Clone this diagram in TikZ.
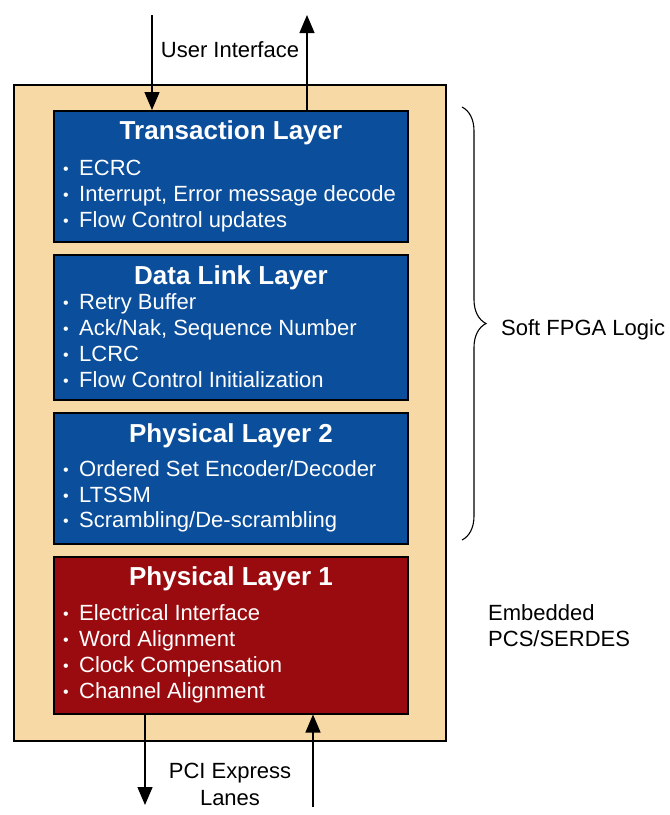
\documentclass[tikz,border=0pt]{standalone}
\usepackage{fontspec}
\setmainfont{Liberation Sans}
\usetikzlibrary{arrows.meta,decorations.pathreplacing}
\definecolor{beige}{HTML}{F6D9A4}
\definecolor{layerblue}{HTML}{0B4E9B}
\definecolor{layerred}{HTML}{9A0B0F}
\newcommand{\bul}{\makebox[16pt][l]{\raisebox{1pt}{\fontsize{16}{16}\selectfont •}}}
\begin{document}
\begin{tikzpicture}[x=1pt,y=-1pt,
  outerbox/.style={draw=black, line width=1.6pt, fill=beige, inner sep=0pt, anchor=north west},
  layerbox/.style={draw=black, line width=1.5pt, inner sep=0pt, anchor=north west, minimum width=354pt},
  title/.style={text=white, font=\fontsize{26}{28}\selectfont\bfseries, anchor=base, inner sep=0pt},
  item/.style={text=white, font=\fontsize{22}{24}\selectfont, anchor=base west, inner sep=0pt},
  lbl/.style={text=black, font=\fontsize{22}{26}\selectfont, inner sep=0pt},
  arr/.style={line width=1.3pt, -{Triangle[width=15pt,length=18pt]}}
]
\useasboundingbox (0,0) rectangle (670,815);
\node[outerbox, minimum width=432pt, minimum height=656pt] (outer) at (13,84) {};

\node[layerbox, fill=layerblue, minimum height=131pt] (tl) at (53,110) {};
\node[layerbox, fill=layerblue, minimum height=145pt] (dl) at (53,254) {};
\node[layerbox, fill=layerblue, minimum height=131pt] (p2) at (53,412) {};
\node[layerbox, fill=layerred, minimum height=157pt] (p1) at (53,556) {};

\node[title] (tlt) at (231,139) {Transaction Layer};
\node[item] (tl1) at (63,175) {\bul ECRC};
\node[item] (tl2) at (63,201) {\bul Interrupt, Error message decode};
\node[item] (tl3) at (63,227) {\bul Flow Control updates};

\node[title] (dlt) at (231,284) {Data Link Layer};
\node[item] (dl1) at (63,309) {\bul Retry Buffer};
\node[item] (dl2) at (63,335) {\bul Ack/Nak, Sequence Number};
\node[item] (dl3) at (63,361) {\bul LCRC};
\node[item] (dl4) at (63,387) {\bul Flow Control Initialization};

\node[title] (p2t) at (231,442) {Physical Layer 2};
\node[item] (p21) at (63,476) {\bul Ordered Set Encoder/Decoder};
\node[item] (p22) at (63,502) {\bul LTSSM};
\node[item] (p23) at (63,527) {\bul Scrambling/De-scrambling};

\node[title] (p1t) at (231,585) {Physical Layer 1};
\node[item] (p11) at (63,620) {\bul Electrical Interface};
\node[item] (p12) at (63,646) {\bul Word Alignment};
\node[item] (p13) at (63,672) {\bul Clock Compensation};
\node[item] (p14) at (63,698) {\bul Channel Alignment};

% top arrows
\coordinate (uin) at (152,15);
\coordinate (uout) at (307,15);
\draw[arr] (uin) -- (uin |- tl.north);
\draw[arr] (uout |- tl.north) -- (uout);
\node[lbl, anchor=base] (ui) at (230,57) {User Interface};

% bottom arrows
\coordinate (lout) at (145,805);
\coordinate (lin) at (313,807);
\draw[arr] (lout |- p1.south) -- (lout);
\draw[arr] (lin) -- (lin |- p1.south);
\node[lbl, anchor=base] (pci1) at (230,778) {PCI Express};
\node[lbl, anchor=base] (pci2) at (230,805) {Lanes};

% brace
\coordinate (bt) at (462,107);
\coordinate (bb) at (462,540);
\draw[line width=1.1pt, decorate, decoration={brace, amplitude=24pt, aspect=0.5}] (bt) -- (bb);
\node[lbl, anchor=base west] (soft) at (501,335) {Soft FPGA Logic};
\node[lbl, anchor=base west] (emb1) at (488,620) {Embedded};
\node[lbl, anchor=base west] (emb2) at (488,646) {PCS/SERDES};
\end{tikzpicture}
\end{document}
